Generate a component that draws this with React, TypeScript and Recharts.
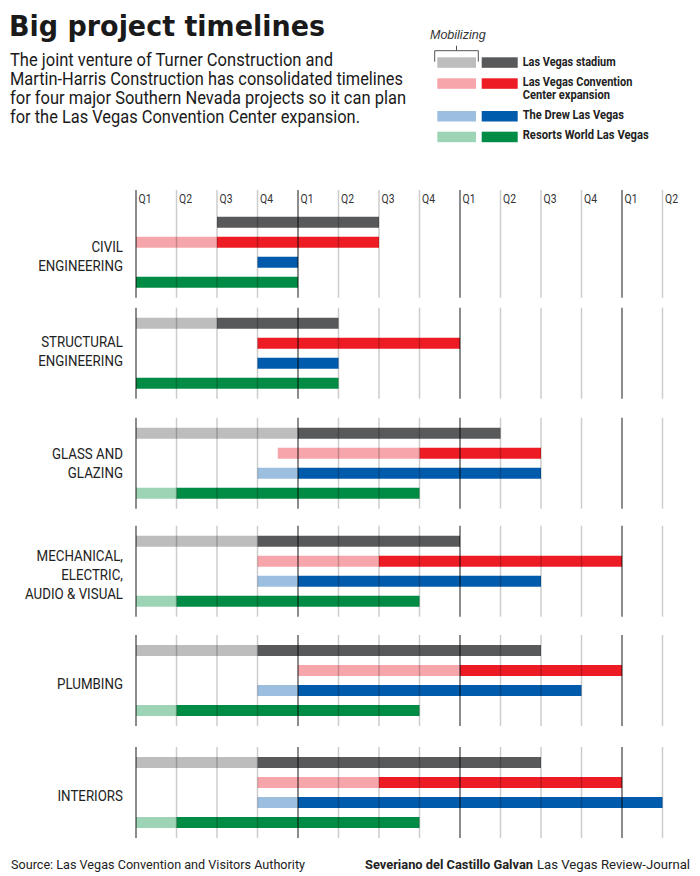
import React from 'react';
import { BarChart, Bar, XAxis, YAxis, Cell, ReferenceLine } from 'recharts';

// ---------- DATA (quarters counted from Q1 2018 = 0) ----------
const PHASES = [
  ['CIVIL', 'ENGINEERING'],
  ['STRUCTURAL', 'ENGINEERING'],
  ['GLASS AND', 'GLAZING'],
  ['MECHANICAL,', 'ELECTRIC,', 'AUDIO & VISUAL'],
  ['PLUMBING'],
  ['INTERIORS'],
];
const PROJECTS = [
  'Las Vegas stadium',
  'Las Vegas Convention Center expansion',
  'The Drew Las Vegas',
  'Resorts World Las Vegas',
];
const QUARTER_LABELS = ['Q1', 'Q2', 'Q3', 'Q4', 'Q1', 'Q2', 'Q3', 'Q4', 'Q1', 'Q2', 'Q3', 'Q4', 'Q1', 'Q2'];
const YEAR_LABELS = ['2018', '2019', '2020', '2021'];

const STADIUM_MOB = [null, 0, 0, 0, 0, 0];
const STADIUM_START = [2, 2, 4, 3, 3, 3];
const STADIUM_END = [6, 5, 9, 8, 10, 10];

const LVCC_MOB = [0, null, 3.5, 3, 4, 3];
const LVCC_START = [2, 3, 7, 6, 8, 6];
const LVCC_END = [6, 8, 10, 12, 12, 12];

const DREW_MOB = [null, null, 3, 3, 3, 3];
const DREW_START = [3, 3, 4, 4, 4, 4];
const DREW_END = [4, 5, 10, 10, 11, 13];

const RESORTS_MOB = [null, null, 0, 0, 0, 0];
const RESORTS_START = [0, 0, 1, 1, 1, 1];
const RESORTS_END = [4, 5, 7, 7, 7, 7];

// ---------- STYLE / LAYOUT ----------
const WORK_COLORS = ['#58595b', '#ed1c24', '#005bac', '#008c45'];
const MOB_COLORS = ['#bdbdbd', '#f6a5aa', '#9cbfe0', '#9dd4b5'];
const SANS = 'Roboto, "Liberation Sans", sans-serif';
const PLOT_TOP = 190;
const X_MAX = 13.5;
const Y_MAX = 65; // 10px units, counted downward from plot top
const GROUP_Y = [3.28, 13.37, 24.37, 35.17, 46.1, 57.3];
const ROW_STEP = 2;
const LABEL_NUDGE = [0, -6, -3.5, 0, 0, 0];

const MOBS = [STADIUM_MOB, LVCC_MOB, DREW_MOB, RESORTS_MOB];
const STARTS = [STADIUM_START, LVCC_START, DREW_START, RESORTS_START];
const ENDS = [STADIUM_END, LVCC_END, DREW_END, RESORTS_END];

const rows: any[] = [];
PHASES.forEach((_, g) => {
  PROJECTS.forEach((name, p) => {
    const mob = MOBS[p][g];
    const start = STARTS[p][g];
    const end = ENDS[p][g];
    rows.push({
      y: GROUP_Y[g] + ROW_STEP * p,
      project: name,
      p,
      lead: mob == null ? start : mob,
      mob: mob == null ? 0 : start - mob,
      work: end - start,
    });
  });
});

const groupCenters = GROUP_Y.map((v) => v + ROW_STEP * 1.5);
const quarterTicks = QUARTER_LABELS.map((_, i) => i);
const yearTicks = YEAR_LABELS.map((_, i) => i * 4);

const QuarterTick = (props: any) => {
  const { x, payload } = props;
  const tx = x + 2.5;
  return (
    <text
      x={tx}
      y={PLOT_TOP + 12.7}
      fontSize={13}
      fill="#333"
      fontFamily={SANS}
      transform={`translate(${tx},0) scale(0.8,1) translate(${-tx},0)`}
    >
      {QUARTER_LABELS[payload.value]}
    </text>
  );
};

const YearTick = (props: any) => {
  const { x, payload } = props;
  return (
    <text x={x} y={177} fontSize={12.5} fontWeight="bold" fill="#222" textAnchor="middle" fontFamily="DejaVu Sans, sans-serif">
      {YEAR_LABELS[payload.value / 4]}
    </text>
  );
};

const GroupTick = (props: any) => {
  const { y, payload } = props;
  const g = groupCenters.findIndex((c) => Math.abs(c - payload.value) < 1e-6);
  if (g < 0) return null;
  const lines = PHASES[g];
  const first = y + 8.5 - ((lines.length - 1) * 19) / 2 + LABEL_NUDGE[g];
  return (
    <text
      x={123}
      y={first}
      fontSize={15.5}
      fill="#222"
      textAnchor="end"
      fontFamily={SANS}
      transform="translate(123,0) scale(0.86,1) translate(-123,0)"
    >
      {lines.map((l, i) => (
        <tspan key={i} x={123} y={first + i * 19}>
          {l}
        </tspan>
      ))}
    </text>
  );
};

const gridLines: any[] = [];
GROUP_Y.forEach((gy, g) => {
  const top = g === 0 ? 0 : gy - 1.6;
  const bottom = gy + ROW_STEP * 3 + 1.5;
  quarterTicks.forEach((q) => {
    const isYear = q % 4 === 0;
    gridLines.push(
      <ReferenceLine
        key={`g${g}q${q}`}
        xAxisId="q"
        yAxisId="bars"
        segment={[{ x: q, y: top }, { x: q, y: bottom }]}
        stroke="#000"
        strokeOpacity={isYear ? 0.45 : 0.2}
        strokeWidth={isYear ? 2 : 1.5}
        ifOverflow="visible"
      />
    );
  });
});

const SUBTITLE = [
  ['The joint venture of Turner Construction and', 323],
  ['Martin-Harris Construction has consolidated timelines', 393],
  ['for four major Southern Nevada projects so it can plan', 396],
  ['for the Las Vegas Convention Center expansion.', 350],
] as const;

const LEGEND_TEXT = [
  ['Las Vegas stadium', 65.7, 93],
  ['Las Vegas Convention', 85.7, 109.6],
  ['Center expansion', 99.3, 87.3],
  ['The Drew Las Vegas', 119, 101.3],
  ['Resorts World Las Vegas', 139.3, 126],
] as const;

const Header = () => (
  <svg width={700} height={876} style={{ position: 'absolute', left: 0, top: 0 }}>
    <text
      x={9}
      y={36}
      fontSize={28.5}
      fontWeight="bold"
      fill="#1a1a1a"
      fontFamily="DejaVu Sans, sans-serif"
      textLength={316}
      lengthAdjust="spacingAndGlyphs"
    >
      Big project timelines
    </text>
    {SUBTITLE.map(([t, w], i) => (
      <text
        key={i}
        x={10}
        y={65.7 + i * 19.2}
        fontSize={17.5}
        fill="#1a1a1a"
        fontFamily={SANS}
        textLength={w}
        lengthAdjust="spacingAndGlyphs"
      >
        {t}
      </text>
    ))}
    {/* legend */}
    <text x={430} y={39} fontSize={12.5} fontStyle="italic" fill="#333" fontFamily='"Liberation Sans", Arial, sans-serif'>
      Mobilizing
    </text>
    <path d="M434.7 61.7 V50.7 H478.3 V61.7 M456.5 50.7 V45.7" stroke="#555" strokeWidth={1} fill="none" />
    {[57.3, 78.3, 111, 131.7].map((ty, i) => (
      <g key={i}>
        <rect x={437.3} y={ty} width={38.7} height={10.5} fill={MOB_COLORS[i]} />
        <rect x={481.7} y={ty} width={36} height={10.5} fill={WORK_COLORS[i]} />
      </g>
    ))}
    {LEGEND_TEXT.map(([t, ty, w], i) => (
      <text
        key={i}
        x={522.7}
        y={ty}
        fontSize={12}
        fontWeight="bold"
        fill="#222"
        fontFamily={SANS}
        textLength={w}
        lengthAdjust="spacingAndGlyphs"
      >
        {t}
      </text>
    ))}
    {/* footer */}
    <text x={11} y={868.5} fontSize={13.5} fill="#222" fontFamily={SANS} textLength={294} lengthAdjust="spacingAndGlyphs">
      Source: Las Vegas Convention and Visitors Authority
    </text>
    <text
      x={365}
      y={868.5}
      fontSize={13.5}
      fontWeight="bold"
      fill="#222"
      fontFamily={SANS}
      textLength={168}
      lengthAdjust="spacingAndGlyphs"
    >
      Severiano del Castillo Galvan
    </text>
    <text x={537} y={868.5} fontSize={13.5} fill="#222" fontFamily={SANS} textLength={153} lengthAdjust="spacingAndGlyphs">
      Las Vegas Review-Journal
    </text>
  </svg>
);

export default function App() {
  return (
    <div style={{ position: 'absolute', left: 0, top: 0, width: 700, height: 876, background: '#fff' }}>
      <Header />
      <div style={{ position: 'absolute', left: 0, top: 0 }}>
        <BarChart
          layout="vertical"
          width={700}
          height={876}
          data={rows}
          barSize={11}
          margin={{ top: 160, right: 17.25, bottom: 36, left: 0 }}
        >
          <XAxis
            xAxisId="yr"
            type="number"
            orientation="top"
            domain={[0, X_MAX]}
            ticks={yearTicks}
            interval={0}
            height={20}
            axisLine={false}
            tickLine={false}
            tick={YearTick}
          />
          <XAxis
            xAxisId="q"
            type="number"
            orientation="top"
            domain={[0, X_MAX]}
            ticks={quarterTicks}
            interval={0}
            height={10}
            axisLine={false}
            tickLine={false}
            tick={QuarterTick}
          />
          <YAxis
            yAxisId="bars"
            type="number"
            dataKey="y"
            domain={[0, Y_MAX]}
            width={136}
            ticks={groupCenters}
            interval={0}
            axisLine={false}
            tickLine={false}
            tick={GroupTick}
          />
          <Bar xAxisId="q" yAxisId="bars" dataKey="lead" stackId="s" fill="transparent" isAnimationActive={false} />
          <Bar xAxisId="q" yAxisId="bars" dataKey="mob" stackId="s" isAnimationActive={false}>
            {rows.map((r, i) => (
              <Cell key={i} fill={MOB_COLORS[r.p]} />
            ))}
          </Bar>
          <Bar xAxisId="q" yAxisId="bars" dataKey="work" stackId="s" isAnimationActive={false}>
            {rows.map((r, i) => (
              <Cell key={i} fill={WORK_COLORS[r.p]} />
            ))}
          </Bar>
          {gridLines}
        </BarChart>
      </div>
    </div>
  );
}
